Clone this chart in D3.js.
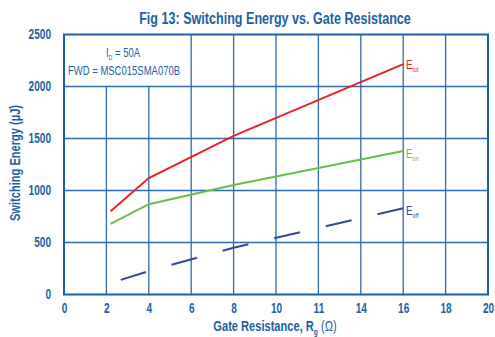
<!DOCTYPE html>
<html>
<head>
<meta charset="utf-8">
<script src="https://cdn.jsdelivr.net/npm/d3@7"></script>
<style>
  html, body { margin: 0; padding: 0; background: #ffffff; }
  svg { display: block; }
  text { font-family: "Liberation Sans", Arial, sans-serif; }
</style>
</head>
<body>
<svg id="chart" width="495" height="337"></svg>
<script>
// Gate resistance (ohm) at which each energy was measured
const rg = [2.2, 4, 8, 16];
// Switching energies in microjoules
const eTot = [800, 1120, 1525, 2215];
const eOn = [680, 868, 1053, 1380];
const eOff = [110, 225, 450, 830];

// Axis ticks and their printed labels
const xTicks = [0, 2, 4, 6, 8, 10, 12, 14, 16, 18, 20];
const xTickLabels = ["0", "2", "4", "6", "8", "10", "11", "14", "16", "18", "20"];
const yTicks = [0, 500, 1000, 1500, 2000, 2500];

const title = "Fig 13: Switching Energy vs. Gate Resistance";
const noteFwd = "FWD = MSC015SMA070B";

const blue = "#1d5fa3";
const gridBlue = "#2b6aab";
const red = "#ec2127";
const green = "#6abd45";
const navy = "#2e4a9e";

// horizontal squeeze that gives the narrow lettering
const narrow = 0.72;

const svg = d3.select("#chart");

const x = d3.scaleLinear().domain([0, 20]).range([64, 488]);
const y = d3.scaleLinear().domain([0, 2500]).range([294.5, 34.5]);

// text placed at (px,py) and squeezed horizontally about that point
function narrowText(px, py, anchor, size, weight, color, k = narrow, rotate = 0) {
  return svg.append("text")
    .attr("transform", `translate(${px},${py}) rotate(${rotate}) scale(${k},1)`)
    .attr("text-anchor", anchor)
    .attr("fill", color)
    .attr("font-size", size)
    .attr("font-weight", weight);
}

// Title
narrowText(275, 24, "middle", 17, "bold", blue, 0.74).text(title);

// Horizontal grid lines
svg.append("g").selectAll("line")
  .data(yTicks.filter(v => v > 0 && v < 2500))
  .join("line")
  .attr("x1", x(0)).attr("x2", x(20))
  .attr("y1", d => y(d)).attr("y2", d => y(d))
  .attr("stroke", gridBlue).attr("stroke-width", 1.3);

// Vertical grid lines; the ones under the note box stop at 2000
svg.append("g").selectAll("line")
  .data(xTicks.filter(v => v > 0 && v < 20))
  .join("line")
  .attr("x1", d => x(d)).attr("x2", d => x(d))
  .attr("y1", y(0))
  .attr("y2", d => d < 6 ? y(2000) : y(2500))
  .attr("stroke", gridBlue).attr("stroke-width", 1.3);

// Plot frame
svg.append("rect")
  .attr("x", x(0)).attr("y", y(2500))
  .attr("width", x(20) - x(0)).attr("height", y(0) - y(2500))
  .attr("fill", "none")
  .attr("stroke", blue).attr("stroke-width", 2);

// Axes (labels only)
const xAxis = d3.axisBottom(x)
  .tickValues(xTicks)
  .tickFormat((d, i) => xTickLabels[i])
  .tickSize(0).tickPadding(0);
const gx = svg.append("g").attr("transform", `translate(0,${y(0) + 9})`).call(xAxis);
gx.select(".domain").remove();
gx.selectAll("text")
  .attr("fill", blue).attr("font-size", 14).attr("font-weight", "bold")
  .attr("dy", "0.71em")
  .attr("transform", `scale(${narrow},1)`)
  .style("font-family", "'Liberation Sans', Arial, sans-serif");

const yAxis = d3.axisLeft(y).tickValues(yTicks).tickFormat(d3.format("d")).tickSize(0).tickPadding(0);
const gy = svg.append("g").attr("transform", `translate(${x(0) - 13},0)`).call(yAxis);
gy.select(".domain").remove();
gy.selectAll("text")
  .attr("fill", blue).attr("font-size", 14).attr("font-weight", "bold")
  .attr("transform", `scale(${narrow},1)`)
  .style("font-family", "'Liberation Sans', Arial, sans-serif");

// Axis titles
const xt = narrowText(275, 331, "middle", 15, "bold", blue, 0.74);
xt.append("tspan").text("Gate Resistance, R");
xt.append("tspan").attr("font-size", 9).attr("dy", 4).text("g");
xt.append("tspan").attr("dy", -4).attr("font-weight", "normal").text(" (Ω)");

narrowText(20, 163, "middle", 15, "bold", blue, 0.74, -90).text("Switching Energy (µJ)");

// Note box text
const n1 = narrowText(123, 57, "middle", 12.5, "normal", blue, 0.76);
n1.append("tspan").text("I");
n1.append("tspan").attr("font-size", 7).attr("dy", 3).text("D");
n1.append("tspan").attr("dy", -3).text(" = 50A");

narrowText(124, 75, "middle", 12.5, "normal", blue, 0.76).text(noteFwd);

// Curves
const line = d3.line().x(d => x(d[0])).y(d => y(d[1]));

svg.append("path")
  .datum(rg.map((r, i) => [r, eTot[i]]))
  .attr("d", line)
  .attr("fill", "none").attr("stroke", red).attr("stroke-width", 2);

svg.append("path")
  .datum(rg.map((r, i) => [r, eOn[i]]))
  .attr("d", line)
  .attr("fill", "none").attr("stroke", green).attr("stroke-width", 2);

const offPath = svg.append("path")
  .datum(rg.map((r, i) => [r, eOff[i]]))
  .attr("d", line)
  .attr("fill", "none").attr("stroke", navy).attr("stroke-width", 2);
// dashes are laid out so that the last dash finishes at the final point
const dash = 26.5, gap = 26.5, period = dash + gap;
const L = offPath.node().getTotalLength();
const off = (((dash - L) % period) + period) % period;
offPath.attr("stroke-dasharray", `${dash},${gap}`).attr("stroke-dashoffset", off);

// Series labels
function seriesLabel(yPos, sub, color) {
  const t = narrowText(406, yPos, "start", 13, "normal", color, 0.76);
  t.append("tspan").text("E");
  t.append("tspan").attr("font-size", 7).attr("dy", 3).text(sub);
}
seriesLabel(y(eTot[3]) + 5, "tot", red);
seriesLabel(y(eOn[3]) + 7, "on", green);
seriesLabel(y(eOff[3]) + 7, "off", navy);
</script>
</body>
</html>
